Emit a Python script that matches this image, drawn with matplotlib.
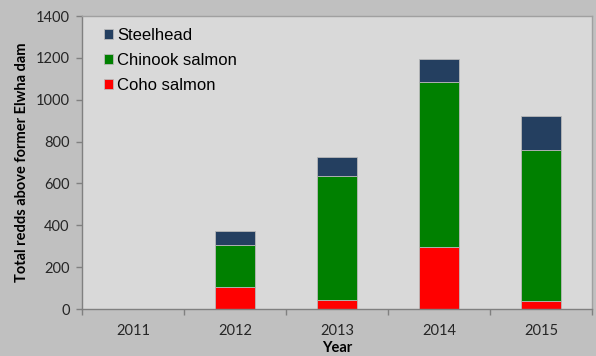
"""Elwha redds stacked bar chart."""

import matplotlib.pyplot as plt
import numpy as np

years = ["2011", "2012", "2013", "2014", "2015"]
coho = [0, 105, 45, 295, 38]
chinook = [0, 200, 592, 790, 722]
steelhead = [0, 68, 90, 110, 164]

plt.rcParams["font.family"] = ["Lato", "DejaVu Sans"]

fig = plt.figure(figsize=(5.96, 3.56), dpi=100, facecolor="#c0c0c0")
ax = fig.add_axes([0.1376, 0.132, 0.8557, 0.823], facecolor="#d9d9d9")

x = np.arange(len(years))
w = 0.4
edge = dict(edgecolor="#b8b8b8", linewidth=0.6)
ax.bar(x, coho, w, color="#ff0000", label="Coho salmon", **edge)
ax.bar(x, chinook, w, bottom=coho, color="#008000", label="Chinook salmon", **edge)
ax.bar(x, steelhead, w, bottom=np.add(coho, chinook), color="#243f60",
       label="Steelhead", **edge)

ax.set_xlim(-0.5, len(years) - 0.5)
ax.set_ylim(0, 1400)
ax.set_yticks(range(0, 1401, 200))
ax.set_xticks(x)
ax.set_xticklabels(years)
ax.set_xticks(np.arange(-0.5, len(years)), minor=True)
ax.tick_params(axis="x", which="major", length=0, pad=11)
ax.tick_params(axis="x", which="minor", length=4, color="#808080", width=1)
ax.tick_params(axis="y", length=4, color="#808080", width=1, pad=5)
ax.tick_params(labelsize=10.5, labelcolor="#262626")

for s in ax.spines.values():
    s.set_color("#a0a0a0")
    s.set_linewidth(1)
ax.spines["left"].set_color("#808080")
ax.spines["bottom"].set_color("#808080")

ax.set_ylabel("Total redds above former Elwha dam", fontsize=10.5,
              fontweight="bold", labelpad=5)
ax.set_xlabel("Year", fontsize=10.5, fontweight="bold", labelpad=2)

h, l = ax.get_legend_handles_labels()
ax.legend(h[::-1], l[::-1], loc="upper left", frameon=False,
          prop={"family": "Liberation Sans", "size": 12},
          handlelength=0.55, handleheight=0.55, handletextpad=0.25,
          labelspacing=0.6, borderaxespad=0, bbox_to_anchor=(0.03, 0.982))

fig.savefig("out.png", dpi=100, facecolor=fig.get_facecolor())
